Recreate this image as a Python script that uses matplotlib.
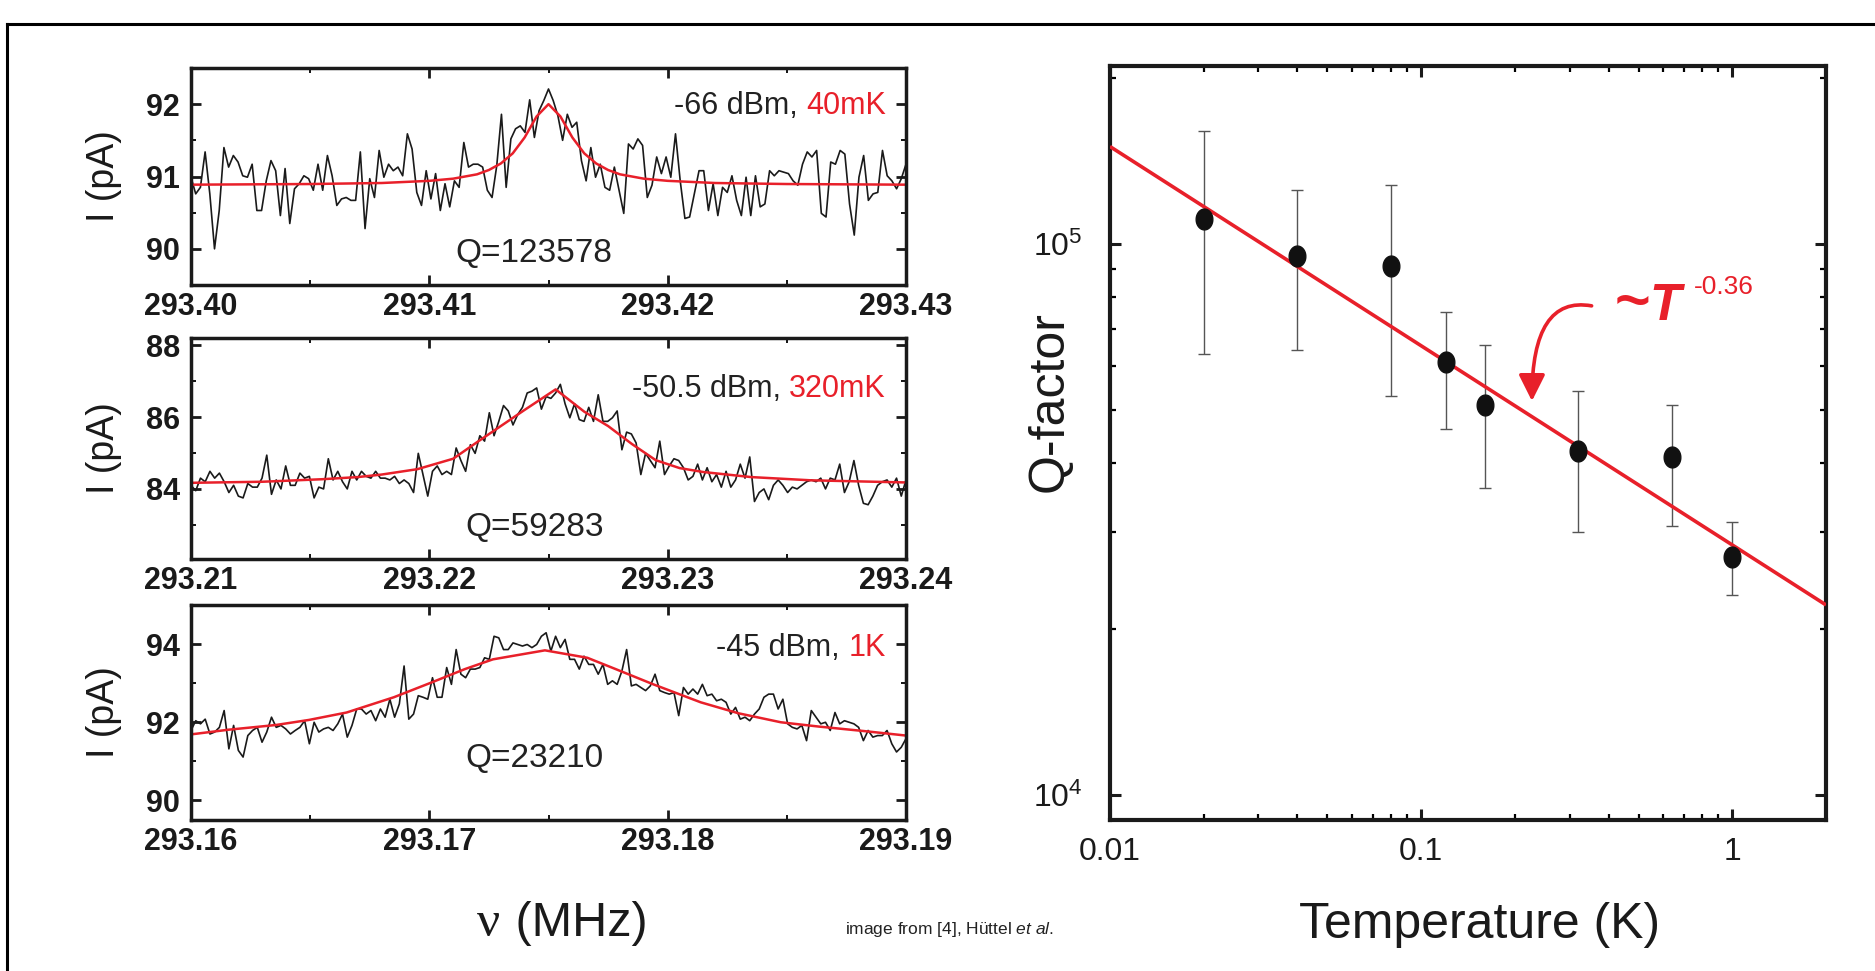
import numpy as np
import matplotlib
matplotlib.use('Agg')
import matplotlib.pyplot as plt
from matplotlib.path import Path
from matplotlib.lines import Line2D
from matplotlib.ticker import MultipleLocator, FixedLocator, FixedFormatter, LogLocator, NullFormatter, LogFormatterMathtext

plt.rcParams['font.family'] = ['Liberation Sans', 'DejaVu Sans']
plt.rcParams['mathtext.fontset'] = 'custom'
plt.rcParams['mathtext.rm'] = 'Liberation Sans'
plt.rcParams['mathtext.it'] = 'Liberation Sans:italic'
plt.rcParams['mathtext.bf'] = 'Liberation Sans:bold'

RED = '#e8202a'

# ---------------- data: left panels (frequency sweeps) ----------------
top_xlim = (293.40, 293.43)
top_ylim = (89.5, 92.5)
top_xticks = [293.40, 293.41, 293.42, 293.43]
top_yticks = [90, 91, 92]
top_I = [90.99, 90.76, 90.85, 91.34, 90.76, 90.00, 90.53, 91.40, 91.13, 91.29,
         91.20, 91.01, 90.99, 91.17, 90.53, 90.53, 90.94, 91.22, 91.08, 90.46,
         91.11, 90.35, 90.83, 90.90, 91.01, 90.97, 90.81, 91.17, 90.81, 91.29,
         91.01, 90.60, 90.69, 90.71, 90.67, 90.67, 91.34, 90.28, 90.97, 90.71,
         91.36, 90.99, 91.17, 91.08, 91.13, 91.01, 91.59, 91.38, 90.78, 90.60,
         91.08, 90.69, 91.04, 90.53, 90.90, 90.58, 90.94, 90.85, 91.47, 91.13,
         91.17, 91.17, 91.13, 90.81, 90.71, 91.15, 91.86, 90.85, 91.52, 91.66,
         91.70, 91.61, 92.06, 91.54, 91.91, 92.05, 92.21, 92.05, 91.84, 91.50,
         91.86, 91.68, 91.75, 91.22, 90.94, 91.40, 90.99, 91.17, 90.85, 90.81,
         91.13, 90.81, 90.49, 91.45, 91.38, 91.52, 91.43, 90.71, 90.88, 91.27,
         91.04, 91.27, 90.99, 91.59, 90.94, 90.42, 90.44, 90.76, 91.08, 91.08,
         90.53, 90.90, 90.46, 90.85, 90.78, 91.01, 90.67, 90.46, 90.99, 90.46,
         91.01, 90.58, 90.62, 91.08, 91.01, 91.08, 91.06, 91.04, 90.94, 90.88,
         91.17, 91.34, 91.27, 91.36, 90.49, 90.44, 91.20, 91.17, 91.36, 91.31,
         90.62, 90.19, 90.99, 91.29, 90.67, 90.76, 90.78, 91.36, 91.01, 90.94,
         90.83, 90.97, 91.17]
top_fit_f = [293.400, 293.405, 293.408, 293.410, 293.411, 293.412, 293.4125, 293.413,
             293.4135, 293.414, 293.4145, 293.415, 293.4155, 293.416, 293.4165,
             293.417, 293.4175, 293.418, 293.419, 293.420, 293.422, 293.425, 293.430]
top_fit_I = [90.887, 90.896, 90.91, 90.94, 90.97, 91.03, 91.09, 91.18,
             91.32, 91.54, 91.83, 92.00, 91.83, 91.54, 91.32,
             91.18, 91.09, 91.03, 90.97, 90.94, 90.91, 90.896, 90.887]

mid_xlim = (293.21, 293.24)
mid_ylim = (82.05, 88.2)
mid_xticks = [293.21, 293.22, 293.23, 293.24]
mid_yticks = [84, 86, 88]
mid_I = [84.10, 83.95, 84.30, 84.20, 84.49, 84.30, 84.44, 84.20, 83.90, 84.10,
         83.80, 83.75, 84.15, 84.05, 84.05, 84.30, 84.94, 83.85, 84.25, 84.00,
         84.64, 84.10, 84.10, 84.44, 84.30, 84.35, 83.75, 84.05, 84.00, 84.84,
         84.25, 84.49, 84.20, 84.00, 84.49, 84.25, 84.49, 84.35, 84.30, 84.49,
         84.30, 84.30, 84.25, 84.35, 84.15, 84.25, 84.15, 83.90, 84.99, 84.40,
         83.80, 84.49, 84.64, 84.40, 84.49, 84.40, 85.14, 84.79, 84.49, 85.23,
         84.99, 85.48, 85.33, 86.12, 85.48, 85.88, 86.32, 86.17, 85.78, 86.07,
         86.27, 86.67, 86.72, 86.81, 86.22, 86.57, 86.52, 86.67, 86.91, 86.37,
         85.98, 86.37, 85.93, 85.88, 86.27, 85.88, 86.62, 85.88, 85.88, 85.98,
         86.17, 85.09, 85.58, 85.53, 85.28, 84.40, 84.99, 84.79, 84.59, 85.33,
         84.40, 84.64, 84.84, 84.79, 84.59, 84.25, 84.35, 84.69, 84.25, 84.59,
         84.20, 84.40, 84.05, 84.49, 84.05, 84.25, 84.69, 84.30, 84.89, 83.65,
         83.90, 84.00, 83.70, 84.10, 84.25, 84.10, 83.90, 84.05, 84.00, 84.10,
         84.20, 84.25, 84.20, 84.30, 84.00, 84.30, 84.25, 84.69, 83.90, 84.20,
         84.79, 84.10, 83.60, 83.56, 83.80, 84.10, 84.20, 84.25, 84.05, 84.30,
         83.80, 84.25]
mid_fit_f = [293.2100, 293.2130, 293.2155, 293.2170, 293.2180, 293.2195, 293.2210,
             293.2220, 293.2230, 293.2240, 293.2253, 293.2265, 293.2275, 293.2285,
             293.2295, 293.2305, 293.2315, 293.2335, 293.2360, 293.2400]
mid_fit_I = [84.17, 84.20, 84.27, 84.33, 84.40, 84.55, 84.84,
             85.30, 85.75, 86.20, 86.77, 86.15, 85.75, 85.25,
             84.80, 84.58, 84.47, 84.33, 84.24, 84.18]

bot_xlim = (293.16, 293.19)
bot_ylim = (89.5, 95.0)
bot_xticks = [293.16, 293.17, 293.18, 293.19]
bot_yticks = [90, 92, 94]
bot_I = [91.79, 92.04, 91.96, 92.08, 91.70, 91.75, 91.87, 92.30, 91.32, 91.92,
         91.28, 91.11, 91.66, 91.79, 91.87, 91.49, 91.75, 92.13, 91.87, 91.92,
         91.83, 91.70, 91.79, 91.87, 92.04, 91.45, 92.00, 91.75, 91.83, 91.87,
         91.79, 91.96, 92.21, 91.62, 91.92, 92.34, 92.34, 92.21, 92.30, 92.04,
         92.34, 92.13, 92.59, 92.13, 92.47, 93.44, 92.08, 92.21, 92.68, 92.64,
         92.59, 93.14, 92.64, 92.64, 93.40, 92.97, 93.86, 93.23, 93.14, 93.36,
         93.36, 93.40, 93.65, 93.61, 94.20, 94.16, 93.86, 93.86, 94.03, 93.99,
         93.95, 93.99, 93.91, 93.99, 94.20, 94.29, 93.82, 94.20, 93.91, 94.12,
         93.61, 93.61, 93.36, 93.69, 93.48, 93.48, 93.23, 93.48, 92.97, 93.06,
         92.97, 93.31, 93.86, 92.93, 92.97, 92.89, 92.81, 92.93, 93.23, 92.81,
         92.76, 92.72, 92.76, 92.17, 92.89, 92.72, 92.85, 92.72, 92.97, 92.68,
         92.72, 92.55, 92.59, 92.51, 92.21, 92.38, 92.08, 92.13, 92.04, 92.21,
         92.34, 92.64, 92.72, 92.72, 92.34, 92.59, 91.96, 91.87, 91.83, 91.92,
         91.53, 92.30, 92.13, 91.96, 92.00, 91.79, 92.25, 91.96, 92.04, 92.00,
         91.96, 91.87, 91.53, 91.79, 91.62, 91.66, 91.66, 91.79, 91.45, 91.24,
         91.36, 91.58]
bot_fit_f = [293.1600, 293.16158, 293.16356, 293.16495, 293.16653, 293.16851, 293.1701,
             293.17149, 293.17267, 293.17485, 293.17663, 293.17782, 293.1794, 293.18139,
             293.18297, 293.18475, 293.18634, 293.18832, 293.1900]
bot_fit_I = [91.69, 91.81, 91.93, 92.06, 92.25, 92.64, 93.02,
             93.36, 93.61, 93.84, 93.65, 93.36, 92.97, 92.51,
             92.23, 92.00, 91.89, 91.77, 91.66]

powers = ['-66 dBm,', '-50.5 dBm,', '-45 dBm,']
temps = ['40mK', '320mK', '1K']
q_labels = ['Q=123578', 'Q=59283', 'Q=23210']

# ---------------- data: right panel (Q vs T) ----------------
T_K = [0.02, 0.04, 0.08, 0.12, 0.16, 0.32, 0.64, 1.0]
Q_val = [1.11e5, 9.5e4, 9.1e4, 6.1e4, 5.1e4, 4.2e4, 4.1e4, 2.7e4]
Q_hi = [1.60e5, 1.25e5, 1.28e5, 7.5e4, 6.55e4, 5.4e4, 5.1e4, 3.12e4]
Q_lo = [6.3e4, 6.4e4, 5.3e4, 4.6e4, 3.6e4, 3.0e4, 3.07e4, 2.3e4]
fit_T = [0.01, 2.0]
fit_Q = [1.5e5, 2.21e4]
r_xticks = [0.01, 0.1, 1]
r_xticklabels = ['0.01', '0.1', '1']

# ---------------- figure ----------------
W, H = 1875, 971
fig = plt.figure(figsize=(W / 100, H / 100), dpi=100)

def fx(px):
    return px / W

def fy(py):
    return 1 - py / H

# outer frame (top and left edges)
fig.add_artist(Line2D([fx(7), 1.0], [fy(24), fy(24)], transform=fig.transFigure, color='k', lw=2.2))
fig.add_artist(Line2D([fx(7), fx(7)], [0.0, fy(24)], transform=fig.transFigure, color='k', lw=2.2))

# (top px, bottom px, xlim, ylim, xticks, yticks, minor step, trace, fit f, fit I, label baseline, Q baseline)
panels = [
    (68, 285, top_xlim, top_ylim, top_xticks, top_yticks, 0.5, top_I, top_fit_f, top_fit_I, 0.79, 0.105),
    (338, 559, mid_xlim, mid_ylim, mid_xticks, mid_yticks, 1.0, mid_I, mid_fit_f, mid_fit_I, 0.735, 0.105),
    (605, 820, bot_xlim, bot_ylim, bot_xticks, bot_yticks, 1.0, bot_I, bot_fit_f, bot_fit_I, 0.765, 0.245),
]
L_LEFT, L_RIGHT = 191, 906

left_axes = []
for i, (ptop, pbot, xlim, ylim, xt, yt, ymin, I, ff, fI, ylab_y, q_y) in enumerate(panels):
    ax = fig.add_axes([fx(L_LEFT), fy(pbot), fx(L_RIGHT - L_LEFT), (pbot - ptop) / H])
    f = np.linspace(xlim[0], xlim[1], len(I))
    ax.plot(f, I, color='#1a1a1a', lw=1.2)
    ax.plot(ff, fI, color=RED, lw=1.8)
    ax.set_xlim(*xlim)
    ax.set_ylim(*ylim)
    ax.xaxis.set_major_locator(FixedLocator(xt))
    ax.xaxis.set_major_formatter(FixedFormatter(['%.2f' % v for v in xt]))
    ax.xaxis.set_minor_locator(MultipleLocator(0.005))
    ax.yaxis.set_major_locator(FixedLocator(yt))
    ax.yaxis.set_major_formatter(FixedFormatter(['%d' % v for v in yt]))
    ax.yaxis.set_minor_locator(MultipleLocator(ymin))
    ax.tick_params(which='major', direction='in', length=7, width=2.0, top=True, right=True,
                   labelsize=22, pad=5, colors='#1a1a1a')
    ax.tick_params(which='minor', direction='in', length=3.5, width=1.3, top=True, right=True)
    ax.tick_params(axis='y', which='major', pad=8)
    for lab in ax.get_xticklabels() + ax.get_yticklabels():
        lab.set_fontweight('bold')
    for s in ax.spines.values():
        s.set_linewidth(2.5)
        s.set_color('#1a1a1a')
    ax.set_ylabel('I (pA)', fontsize=27, color='#1a1a1a', va='center')
    ax.yaxis.set_label_coords(-0.122, 0.5)
    ax.text(0.48, q_y, q_labels[i], transform=ax.transAxes, ha='center', va='baseline',
            fontsize=24, color='#222222')
    left_axes.append((ax, ylab_y, i))

# right panel
R_LEFT, R_RIGHT, R_TOP, R_BOT = 1110, 1826, 66, 820
axr = fig.add_axes([fx(R_LEFT), fy(R_BOT), fx(R_RIGHT - R_LEFT), (R_BOT - R_TOP) / H])
axr.set_xscale('log')
axr.set_yscale('log')
axr.set_xlim(0.01, 2.0)
axr.set_ylim(9.0e3, 2.1e5)
axr.plot(fit_T, fit_Q, color=RED, lw=2.6, solid_capstyle='butt', zorder=3)
t = np.linspace(0, 2 * np.pi, 60)
ell = Path(np.column_stack([0.8 * np.cos(t), np.sin(t)]))
Qv = np.array(Q_val)
yerr = np.vstack([Qv - np.array(Q_lo), np.array(Q_hi) - Qv])
axr.errorbar(T_K, Q_val, yerr=yerr, fmt='none', ecolor='#555555', elinewidth=1.0,
             capsize=4, capthick=1.0, zorder=2)
axr.plot(T_K, Q_val, linestyle='none', marker=ell, markersize=15, color='#111111', zorder=4)
axr.xaxis.set_major_locator(FixedLocator(r_xticks))
axr.xaxis.set_major_formatter(FixedFormatter(r_xticklabels))
axr.xaxis.set_minor_locator(LogLocator(base=10, subs=np.arange(2, 10)))
axr.xaxis.set_minor_formatter(NullFormatter())
axr.yaxis.set_major_locator(LogLocator(base=10))
axr.yaxis.set_major_formatter(LogFormatterMathtext())
axr.yaxis.set_minor_locator(LogLocator(base=10, subs=np.arange(2, 10)))
axr.yaxis.set_minor_formatter(NullFormatter())
axr.tick_params(which='major', direction='in', length=8, width=2.2, top=True, right=True,
                labelsize=23, colors='#1a1a1a')
axr.tick_params(axis='x', which='major', pad=12)
axr.tick_params(axis='y', which='major', pad=20)
axr.tick_params(which='minor', direction='in', length=4.5, width=1.6, top=True, right=True)
for s in axr.spines.values():
    s.set_linewidth(3.0)
    s.set_color('#1a1a1a')
axr.set_ylabel('Q-factor', fontsize=36, color='#1a1a1a', va='center')
axr.yaxis.set_label_coords(-0.084, 0.555)

# power law annotation
axr.annotate('', xy=(0.227, 5.18e4), xytext=(0.353, 7.71e4),
             arrowprops=dict(arrowstyle='-|>', connectionstyle='angle3,angleA=170,angleB=90',
                             color=RED, lw=2.6, mutation_scale=40, shrinkA=0, shrinkB=0))
axr.text(0.755, 0.663, '~', transform=axr.transAxes, ha='right', va='baseline',
         fontsize=44, fontweight='bold', color=RED)
axr.text(0.753, 0.663, 'T', transform=axr.transAxes, ha='left', va='baseline',
         fontsize=37, fontstyle='italic', fontweight='bold', color=RED)
axr.text(0.815, 0.698, '-0.36', transform=axr.transAxes, ha='left', va='baseline',
         fontsize=19, color=RED)

# power / temperature labels (black + red), right aligned
fig.canvas.draw()
for ax, ylab_y, i in left_axes:
    tr = ax.text(0.972, ylab_y, temps[i], transform=ax.transAxes, ha='right', va='baseline',
                 fontsize=22, color=RED)
    fig.canvas.draw()
    bb = tr.get_window_extent()
    gap = 22 * 0.278 * 100 / 72
    xa = ax.transAxes.inverted().transform((bb.x0 - gap, bb.y0))[0]
    ax.text(xa, ylab_y, powers[i], transform=ax.transAxes, ha='right', va='baseline',
            fontsize=22, color='#222222')

# bottom texts
fig.text(fx(500), fy(936), 'ν', ha='right', va='baseline', fontsize=37,
         family=['Liberation Serif', 'DejaVu Serif'], color='#1a1a1a')
fig.text(fx(502), fy(936), ' (MHz)', ha='left', va='baseline', fontsize=35, color='#1a1a1a')
fig.text(fx(1480), fy(938), 'Temperature (K)', ha='center', va='baseline', fontsize=36, color='#1a1a1a')
fig.text(fx(845), fy(934), r'image from [4], Hüttel $\mathit{et\ al.}$', ha='left', va='baseline',
         fontsize=12.5, color='#222222')

fig.savefig('out.png', dpi=100)
